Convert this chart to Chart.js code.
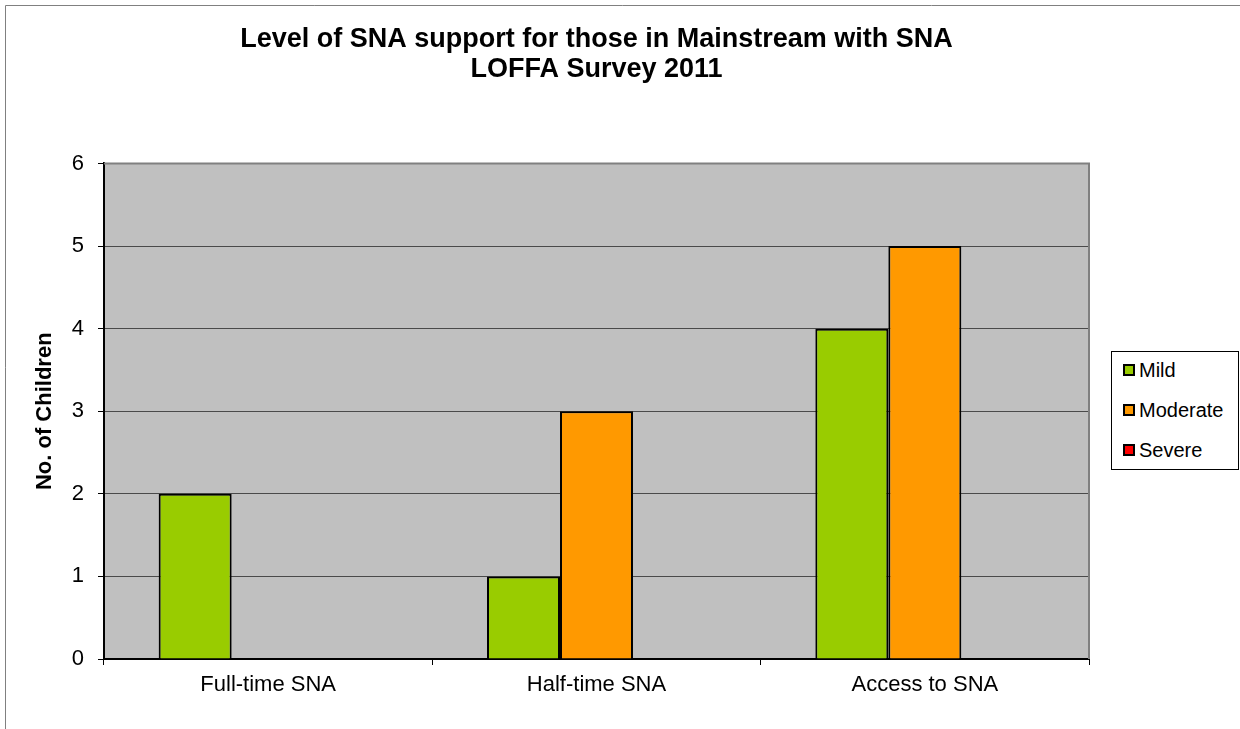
<!DOCTYPE html>
<html lang="en">
<head>
    <meta charset="UTF-8">
    <title>Level of SNA support</title>
    <style>
        body { margin: 0; background: #fff; }
        .wrap { position: relative; width: 1240px; height: 729px; }
        #legend {
            position: absolute; left: 1111px; top: 351px;
            width: 126px; height: 117px;
            border: 1px solid #000; background: #fff;
            font-family: Arial, "Liberation Sans", sans-serif; font-size: 20px; color: #000;
        }
        #legend .item {
            position: absolute; left: 11px; height: 24px; line-height: 24px;
            display: flex; align-items: center; white-space: nowrap;
        }
        #legend .swatch {
            width: 8px; height: 8px; border: 2px solid #000; margin-right: 4px;
        }
    </style>
</head>
<body>
    <div class="wrap">
        <canvas id="barChart" width="1240" height="729"></canvas>
        <div id="legend"></div>
    </div>

    <script src="https://cdn.jsdelivr.net/npm/chart.js@4.4.1/dist/chart.umd.min.js"></script>
    <script>
        const categories = ["Full-time SNA", "Half-time SNA", "Access to SNA"];
        const seriesNames = ["Mild", "Moderate", "Severe"];
        const mildValues = [2, 1, 4];
        const moderateValues = [0, 3, 5];
        const severeValues = [0, 0, 0];
        const seriesColors = ["#99CC00", "#FF9900", "#FF0000"];

        Chart.defaults.font.family = 'Arial, "Liberation Sans", sans-serif';
        Chart.defaults.color = "#000";

        // grey plot background, outer frame and the grey top/right edge of the plot
        var plotFrame = {
            id: "plotFrame",
            beforeDraw: function(chart) {
                var ctx = chart.ctx, a = chart.chartArea;
                ctx.save();
                ctx.fillStyle = "#C0C0C0";
                ctx.fillRect(a.left, a.top, a.right - a.left, a.bottom - a.top);
                ctx.strokeStyle = "#808080";
                ctx.lineWidth = 1;
                ctx.beginPath();
                ctx.moveTo(5.5, chart.height);
                ctx.lineTo(5.5, 5.5);
                ctx.lineTo(chart.width, 5.5);
                ctx.stroke();
                ctx.restore();
            },
            beforeDatasetsDraw: function(chart) {
                var ctx = chart.ctx, a = chart.chartArea;
                ctx.save();
                ctx.strokeStyle = "#808080";
                ctx.lineWidth = 2;
                ctx.beginPath();
                ctx.moveTo(a.left, a.top);
                ctx.lineTo(a.right, a.top);
                ctx.lineTo(a.right, a.bottom);
                ctx.stroke();
                ctx.restore();
            }
        };

        var seriesValues = [mildValues, moderateValues, severeValues];
        var datasets = seriesNames.map(function(name, i) {
            return {
                label: name,
                data: seriesValues[i],
                backgroundColor: seriesColors[i],
                borderColor: "#000",
                borderWidth: { top: 2, left: 2, right: 2, bottom: 0 },
                inflateAmount: 0,
                barPercentage: 1,
                categoryPercentage: 0.667
            };
        });

        var ctxBar = document.getElementById("barChart").getContext("2d");
        var barChart = new Chart(ctxBar, {
            type: "bar",
            data: { labels: categories, datasets: datasets },
            plugins: [plotFrame],
            options: {
                responsive: false,
                animation: false,
                layout: { padding: { left: 0, right: 151, top: 0, bottom: 0 }, autoPadding: false },
                plugins: {
                    legend: { display: false },
                    tooltip: { enabled: false },
                    title: {
                        display: true,
                        fullSize: false,
                        text: ["Level of SNA support for those in Mainstream with SNA", "LOFFA Survey 2011"],
                        color: "#000",
                        font: { size: 27, weight: "bold", lineHeight: 1.12 },
                        padding: { top: 24.5, bottom: 78.5 }
                    }
                },
                scales: {
                    x: {
                        z: 1,
                        grid: { offset: true, drawOnChartArea: false, drawTicks: true, tickLength: 6, color: "#000" },
                        border: { color: "#000", width: 2 },
                        ticks: { font: { size: 22 }, padding: 7, maxRotation: 0 },
                        afterFit: function(s) { s.height = 70; }
                    },
                    y: {
                        min: 0,
                        max: 6,
                        grid: { color: "#4a4a4a", lineWidth: 1, drawTicks: true, tickLength: 6, tickColor: "#000" },
                        border: { color: "#000", width: 2 },
                        ticks: { stepSize: 1, padding: 14, font: { size: 22 } },
                        title: {
                            display: true,
                            text: "No. of Children",
                            font: { size: 22, weight: "bold" },
                            padding: { top: 32, bottom: 0 }
                        },
                        afterFit: function(s) { s.width = 104; }
                    }
                }
            }
        });

        // legend box on the right, built from the series arrays
        var legendEl = document.getElementById("legend");
        seriesNames.forEach(function(name, i) {
            var item = document.createElement("div");
            item.className = "item";
            item.style.top = (6 + i * 40) + "px";
            var sw = document.createElement("span");
            sw.className = "swatch";
            sw.style.background = seriesColors[i];
            var txt = document.createElement("span");
            txt.textContent = name;
            item.appendChild(sw);
            item.appendChild(txt);
            legendEl.appendChild(item);
        });
    </script>
</body>
</html>
